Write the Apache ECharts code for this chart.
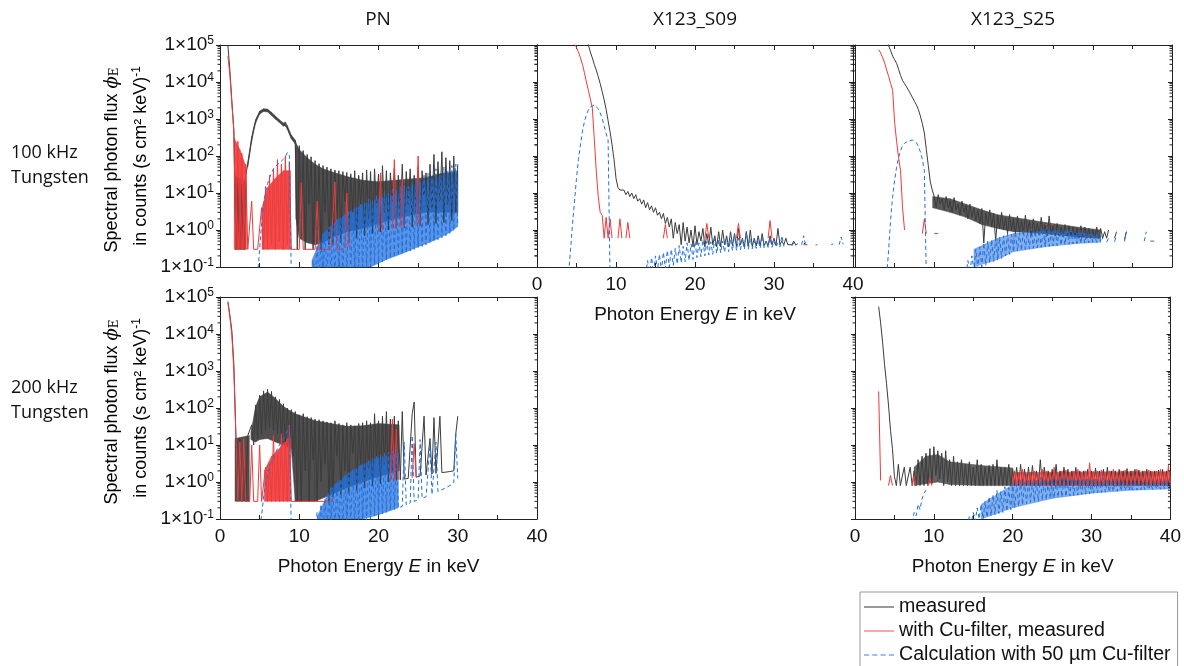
<!DOCTYPE html>
<html>
<head>
<meta charset="utf-8">
<script src="https://cdn.jsdelivr.net/npm/echarts@6/dist/echarts.min.js"></script>
<style>
  html, body { margin: 0; padding: 0; background: #fff; }
  #main { width: 1184px; height: 666px; }
</style>
</head>
<body>
<div id="main"></div>
<script>
// energy grid: every array below is sampled every 0.25 keV, from its own start energy
var STEP = 0.25;

// ---- PN, 100 kHz (start 1.0 keV) ----
var pnTopMeas = [
  95000, 20000, 3000, 500,      // 1
  0.3, 25, 0.3, 18,             // 2
  0.3, 30, 60, 130,             // 3
  300, 550, 900, 1200,          // 4
  1500, 1650, 1750, 1780,       // 5
  1700, 1550, 1400, 1250,       // 6
  1100, 980, 880, 800,          // 7
  700, 760, 600, 420,           // 8
  330, 280, 240, 0.3,           // 9
  190, 2, 140, 0.3,             // 10
  110, 5, 95, 0.3,              // 11
  75, 1, 62, 0.3,               // 12
  55, 3, 50, 0.4,               // 13
  45, 0.4, 42, 2,               // 14
  40, 0.45, 38, 6,              // 15
  36, 0.5, 33, 3,               // 16
  40, 0.6, 30, 5,               // 17
  35, 0.7, 42, 2,               // 18
  38, 0.8, 45, 4,               // 19
  32, 0.9, 55, 3,               // 20
  40, 1.0, 35, 6,               // 21
  48, 1.1, 30, 2,               // 22
  60, 1.15, 38, 5,              // 23
  45, 1.2, 30, 3,               // 24
  50, 1.3, 40, 8,               // 25
  35, 1.4, 60, 4,               // 26
  110, 1.5, 70, 6,              // 27
  130, 1.6, 90, 5,              // 28
  75, 1.8, 100, 3,              // 29
  60                            // 30
];
var pnTopFilt = [
  50000, 15000, 2500, 450,      // 1
  0.3, 250, 0.3, 120,           // 2
  0.3, 60, 0.3, 0.3,            // 3
  6, 0.3, 0.3, 0.3,             // 4
  0.3, 4, 0.3, 15,              // 5
  0.3, 30, 0.4, 45,             // 6
  0.3, 80, 0.5, 60,             // 7
  0.3, 100, 0.4, 70,            // 8
  0.3, 0.3, 0.3, 0.3,           // 9
  0.3, 19, 0.3, 0.3,            // 10
  0.3, 0.3, 0.3, 0.3,           // 11
  0.3, 6, 0.3, 0.3,             // 12
  0.3, 0.3, 0.3, 0.3,           // 13
  0.3, 0.3, 20, 0.3,            // 14
  0.3, 0.3, 0.32, 0.34,         // 15
  10, 0.36, 0.4, null,          // 16
  null, null, null, null,       // 17
  null, null, null, null,       // 18
  null, null, null, null,       // 19
  0.9, 35, 0.95, null,          // 20
  null, null, null, 1.05,       // 21
  80, 1.1, null, 1.15,          // 22
  26, 1.2, null, null,          // 23
  null, null, null, 1.3,        // 24
  100, 1.35, null, null         // 25
];
var pnTopCalc = [
  null, null, null, null,       // 1
  null, null, null, null,       // 2
  null, null, null, null,       // 3
  null, null, null, 0.06,       // 4
  0.3, 1.5, 5, 11,              // 5
  18, 26, 35, 45,               // 6
  52, 58, 65, 72,               // 7
  82, 95, 125, 105,             // 8
  0.05, null, null, null,       // 9
  null, null, null, null,       // 10
  null, null, 0.05, 0.15,       // 11
  0.05, 0.4, 0.05, 0.5,         // 12
  0.05, 0.8, 0.05, 1.2,         // 13
  0.05, 1.5, 0.05, 1.9,         // 14
  0.05, 2.2, 0.06, 2.8,         // 15
  0.06, 3.5, 0.07, 3,           // 16
  0.07, 4.5, 0.08, 5,           // 17
  0.08, 6, 0.09, 7,             // 18
  0.1, 6.5, 0.12, 9,            // 19
  0.13, 8, 0.14, 12,            // 20
  0.15, 10, 0.17, 14,           // 21
  0.18, 12, 0.2, 16,            // 22
  0.22, 22, 0.24, 15,           // 23
  0.27, 18, 0.3, 25,            // 24
  0.33, 20, 0.36, 30,           // 25
  0.4, 35, 0.44, 25,            // 26
  0.5, 45, 0.55, 30,            // 27
  0.62, 50, 0.7, 40,            // 28
  0.8, 55, 0.95, 60,            // 29
  1.25                          // 30
];

// ---- PN, 200 kHz (start 1.0 keV) ----
var pnBotMeas = [
  75000, 32000, 12000, 1500,    // 1
  19, 0.3, 15, 0.3,             // 2
  12, 0.3, 18, 20,              // 3
  35, 10, 120, 15,              // 4
  220, 20, 290, 25,             // 5
  320, 30, 280, 25,             // 6
  200, 20, 170, 15,             // 7
  130, 12, 100, 10,             // 8
  90, 5, 80, 0.3,               // 9
  65, 0.3, 70, 2,               // 10
  58, 0.3, 55, 4,               // 11
  50, 0.3, 48, 1,               // 12
  45, 3, 42, 0.3,               // 13
  40, 0.4, 45, 5,               // 14
  38, 0.45, 35, 2,              // 15
  40, 0.5, 35, 6,               // 16
  33, 0.6, 38, 3,               // 17
  40, 0.7, 45, 2,               // 18
  40, 0.8, 70, 4,               // 19
  45, 0.9, 60, 3,               // 20
  80, 1.0, 50, 2,               // 21
  60, 1.1, 45, 1.15,            // 22
  80, 1.2, 1.22, 1.25,          // 23
  1.28, 70, 145, 1.35,          // 24
  1.4, 1.45, 1.5, 60,           // 25
  1.55, 1.6, 15, 1.65,          // 26
  55, 1.7, 1.72, 60,            // 27
  1.8, 1.82, 1.85, 1.9,         // 28
  1.92, 1.95, 2.0, 20,          // 29
  60                            // 30
];
var pnBotFilt = [
  70000, 28000, 9000, 1000,     // 1
  20, 0.3, 12, 0.3,             // 2
  15, 0.3, 0.3, 0.3,            // 3
  10, 0.3, 0.3, 0.3,            // 4
  10, 0.3, 0.3, 2.5,            // 5
  0.3, 3, 0.3, 18,              // 6
  0.3, 6, 0.3, 20,              // 7
  0.3, 12, 0.3, 35,             // 8
  0.3, 0.3, 0.3, 0.3,           // 9
  0.3, 0.3, 0.3, 0.3,           // 10
  0.3, 0.3, 0.3, 0.3,           // 11
  0.3, 0.3, 0.3, 0.3,           // 12
  0.3, 0.3, 0.3, 0.3,           // 13
  0.3, 0.35, 0.4, null,         // 14
  null, null, null, null,       // 15
  null, null, null, null,       // 16
  null, null, null, null,       // 17
  null, null, null, null,       // 18
  null, null, null, null,       // 19
  null, null, null, null,       // 20
  null, null, 1.05, 50,         // 21
  1.1, 27, 1.15, null,          // 22
  null, null, null, null,       // 23
  null, 1.3, 11, 1.35           // 24
];
var pnBotCalc = [
  null, null, null, null,       // 1
  null, null, null, null,       // 2
  null, null, null, null,       // 3
  null, null, null, null,       // 4
  0.06, 0.12, 0.4, 0.9,         // 5
  1.5, 2.5, 3.5, 4.5,           // 6
  6, 8, 10, 12,                 // 7
  15, 18, 25, 30,               // 8
  0.05, null, null, null,       // 9
  null, null, null, null,       // 10
  null, null, null, null,       // 11
  0.05, 0.15, 0.05, 0.25,       // 12
  0.05, 0.35, 0.05, 0.5,        // 13
  0.05, 0.7, 0.05, 0.9,         // 14
  0.05, 1.2, 0.06, 1.5,         // 15
  0.06, 1.8, 0.07, 2.2,         // 16
  0.07, 2.5, 0.08, 2.9,         // 17
  0.08, 3.5, 0.09, 4,           // 18
  0.1, 4.5, 0.12, 5,            // 19
  0.13, 5.5, 0.14, 6,           // 20
  0.15, 6.5, 0.17, 7,           // 21
  0.18, 8, 0.2, 0.22,           // 22
  0.22, 12, 0.24, 0.26,         // 23
  0.27, 18, 0.3, 0.32,          // 24
  0.33, 14, 0.36, 0.38,         // 25
  0.4, 0.42, 10, 0.46,          // 26
  0.5, 12, 0.55, 0.6,           // 27
  0.62, 0.66, 0.7, 0.75,        // 28
  0.8, 0.85, 0.95, 20,          // 29
  1.25                          // 30
];

// ---- X123_S09, 100 kHz ----
var s09MeasStart = 6.0;
var s09Meas = [
  250000, 170000, 100000, 65000, // 6
  45000, 30000, 21000, 14000,   // 7
  9000, 5500, 3300, 1800,       // 8
  900, 450, 200, 80,            // 9
  25, 14, 12, 11,               // 10
  12, 9, 11, 8,                 // 11
  10, 7, 9, 6,                  // 12
  7, 5, 6.5, 4,                 // 13
  5.5, 3.5, 4.5, 3,             // 14
  4, 2.5, 3, 2,                 // 15
  2.8, 1.5, 2.2, 1.2,           // 16
  2, 0.6, 1.6, 0.8,             // 17
  1.4, 0.4, 1.6, 0.5,           // 18
  1.2, 0.45, 1.0, 0.35,         // 19
  1.3, 0.4, 0.9, 0.5,           // 20
  1.1, 0.35, 0.8, 0.4,          // 21
  1.2, 0.4, 0.7, 0.35,          // 22
  0.9, 0.35, 1.0, 0.4,          // 23
  0.7, 0.35, 0.9, 0.38,         // 24
  0.8, 0.36, 1.1, 0.4,          // 25
  0.6, 0.35, 0.9, 0.36,         // 26
  1.0, 0.36, 0.6, 0.37,         // 27
  0.7, 0.37, 0.8, 0.38,         // 28
  0.5, 0.38, 0.7, 0.4,          // 29
  0.6, 0.38, 1.1, 0.4,          // 30
  0.5, 0.4, 0.6, 0.4,           // 31
  0.45, 0.4, 0.5, 0.4,          // 32
  0.42, null, null, 0.42,       // 33
  0.45                          // 34
];
var s09FiltStart = 4.5;
var s09Filt = [
  200000, 110000,               // 4.5
  85000, 65000, 45000, 30000,   // 5
  18000, 10000, 6000, 3500,     // 6
  2000, 300, 40, 8,             // 7
  3, 2.5, 0.6, 2.2,             // 8
  0.6, 2, 0.6, null,            // 9
  null, 0.6, 2, 0.6,            // 10
  null, 0.6, 1.6, 0.6,          // 11
  null, null, null, null,       // 12
  null, null, null, null,       // 13
  null, null, null, null,       // 14
  null, null, null, null,       // 15
  0.6, 1.4, 0.6, null,          // 16
  null, null, null, null,       // 17
  null, null, null, null,       // 18
  null, null, null, null,       // 19
  null, null, null, null,       // 20
  null, 0.6, 1.5, 0.6,          // 21
  null, null, null, null,       // 22
  null, null, null, null,       // 23
  null, null, null, null,       // 24
  null, 0.6, 1.5, 0.6,          // 25
  null, null, null, null,       // 26
  null, null, null, null,       // 27
  null, null, null, null,       // 28
  null, 0.6, 1.8, 0.6,          // 29
  null, null, null, null,       // 30
  null, null, null, null,       // 31
  null, null, null, null,       // 32
  null, null, null, 0.4,        // 33
  0.4, 0.4                      // 34
];
var s09CalcStart = 4.0;
var s09Calc = [
  0.07, 0.3, 1.5, 6,            // 4
  25, 80, 200, 450,             // 5
  850, 1300, 1750, 2100,        // 6
  2350, 2400, 2250, 1900,       // 7
  1450, 1050, 650, 400,         // 8
  270, 0.05, null, null,        // 9
  null, null, null, null,       // 10
  null, null, null, null,       // 11
  null, null, null, null,       // 12
  null, null, null, 0.06,       // 13
  0.15, 0.06, 0.18, 0.07,       // 14
  0.2, 0.08, 0.22, 0.08,        // 15
  0.25, 0.09, 0.28, 0.1,        // 16
  0.3, 0.11, 0.32, 0.12,        // 17
  0.38, 0.13, 0.36, 0.14,       // 18
  0.45, 0.15, 0.42, 0.16,       // 19
  0.5, 0.18, 0.45, 0.19,        // 20
  0.55, 0.2, 0.5, 0.21,         // 21
  0.48, 0.22, 0.6, 0.23,        // 22
  0.55, 0.24, 0.5, 0.25,        // 23
  0.65, 0.26, 0.55, 0.27,       // 24
  0.8, 0.28, 0.6, 0.29,         // 25
  0.55, 0.3, 0.9, 0.3,          // 26
  0.6, 0.31, 0.5, 0.32,         // 27
  0.55, 0.32, 0.7, 0.33,        // 28
  0.5, 0.34, 0.6, 0.34,         // 29
  0.5, 0.35, 0.45, 0.35,        // 30
  0.7, 0.36, null, null,        // 31
  null, 0.37, 0.45, 0.37,       // 32
  null, null, 0.4, 0.7,         // 33
  0.38, null, null, null,       // 34
  null, 0.39, 0.4, null,        // 35
  null, null, null, null,       // 36
  null, 0.4, 0.42, null,        // 37
  null, 0.4, 0.65, 0.41         // 38
];

// ---- X123_S25, 100 kHz ----
var s25TopMeasStart = 4.0;
var s25TopMeas = [
  150000, 95000, 70000, 50000,  // 4
  40000, 32000, 22000, 15000,   // 5
  11000, 9000, 7400, 6000,      // 6
  4800, 3800, 3000, 2400,       // 7
  1800, 1200, 750, 420,         // 8
  150, 55, 20, 12,              // 9
  8, 4, 9, 5,                   // 10
  7, 3.5, 8, 4,                 // 11
  6, 3, 7.5, 3.5,               // 12
  5, 2.5, 6, 3,                 // 13
  4.5, 2, 5, 2.2,               // 14
  4, 1.8, 3.5, 1.5,             // 15
  3.8, 0.45, 3, 1.4,            // 16
  3.5, 1.2, 2.8, 0.5,           // 17
  2.5, 1.1, 3, 1,               // 18
  2.2, 0.8, 2.6, 1,             // 19
  2, 0.8, 2.4, 0.9,             // 20
  1.8, 0.8, 2.5, 0.9,           // 21
  1.7, 0.7, 2, 0.8,             // 22
  1.5, 0.75, 2.2, 0.8,          // 23
  1.4, 0.7, 2.4, 0.75,          // 24
  1.3, 0.7, 1.5, 0.7,           // 25
  1.2, 0.65, 1.4, 0.7,          // 26
  1.3, 0.7, 1.2, 0.65,          // 27
  1.1, 0.6, 1.3, 0.65,          // 28
  1.2, 0.6, 1.1, 0.6,           // 29
  1.0, 0.6, 1.2, 0.6,           // 30
  1.1, 0.6, 0.9, 0.6,           // 31
  1.0, null, null, 0.6,         // 32
  0.9, null, null, null,        // 33
  0.55, 0.9                     // 34
];
var s25TopFiltStart = 3.0;
var s25TopFilt = [
  75000, 60000, 45000, 32000,   // 3
  21000, 14000, 9000, 6000,     // 4
  800, 250, 90, 40,             // 5
  4, 1, null, null,             // 6
  null, null, null, null,       // 7
  null, null, 0.8, 2,           // 8
  0.8, null, null, null,        // 9
  0.8, 0.8, 0.8, null,          // 10
  null, null, null, null,       // 11
  null, null, null, null,       // 12
  null, null, null, null,       // 13
  null, null, null, null,       // 14
  null, null, null, null,       // 15
  null, null, null, null,       // 16
  null, null, null, null,       // 17
  null, null, null, null,       // 18
  null, null, null, null,       // 19
  null, null, null, null,       // 20
  null, null, null, null,       // 21
  null, null, null, null,       // 22
  null, null, null, null,       // 23
  1.4, 1.4, null, 1.4,          // 24
  1.4                           // 25
];
var s25TopCalcStart = 4.0;
var s25TopCalc = [
  0.06, 0.3, 2, 8,              // 4
  22, 50, 90, 140,              // 5
  190, 220, 245, 260,           // 6
  270, 268, 255, 230,           // 7
  180, 130, 80, 40,             // 8
  0.05, null, null, null,       // 9
  null, null, null, null,       // 10
  null, null, null, null,       // 11
  null, null, null, null,       // 12
  null, null, null, null,       // 13
  0.06, 0.15, 0.07, 0.2,        // 14
  0.08, 0.3, 0.09, 0.35,        // 15
  0.1, 0.45, 0.11, 0.5,         // 16
  0.13, 0.55, 0.14, 0.6,        // 17
  0.15, 0.65, 0.17, 0.7,        // 18
  0.2, 0.8, 0.22, 0.75,         // 19
  0.25, 0.9, 0.27, 0.85,        // 20
  0.28, 1.0, 0.3, 0.9,          // 21
  0.31, 1.1, 0.32, 0.95,        // 22
  0.33, 1.0, 0.34, 1.1,         // 23
  0.35, 1.2, 0.36, 0.9,         // 24
  0.37, 1.1, 0.38, 1.0,         // 25
  0.39, 0.9, 0.4, 1.1,          // 26
  0.41, 1.0, 0.42, 0.8,         // 27
  0.43, 0.9, 0.43, 1.0,         // 28
  0.44, 0.8, 0.45, 0.9,         // 29
  0.46, 0.7, 0.46, 0.9,         // 30
  0.47, 0.6, null, 0.47,        // 31
  0.6, null, null, 0.48,        // 32
  0.7, null, null, null,        // 33
  0.49, 0.9, null, null,        // 34
  0.5, null, 0.6, null,         // 35
  null, null, 0.5, 0.9,         // 36
  null, 0.5, 0.5, 0.5           // 37
];

// ---- X123_S25, 200 kHz ----
var s25BotMeasStart = 3.0;
var s25BotMeas = [
  55000, 20000, 6000, 1500,     // 3
  450, 120, 25, 8,              // 4
  1.4, 0.8, 3, 0.8,             // 5
  0.8, 2.5, 0.8, 0.8,           // 6
  2.5, 0.8, 2, 0.8,             // 7
  4, 0.8, 5, 0.8,               // 8
  6, 0.8, 8, 0.9,               // 9
  9, 1.5, 7, 1.2,               // 10
  6, 0.8, 7, 1.0,               // 11
  4, 0.8, 5, 0.8,               // 12
  3.5, 0.8, 4, 0.8,             // 13
  3, 0.8, 3.5, 0.8,             // 14
  2.5, 0.8, 4, 0.8,             // 15
  3, 0.8, 2.5, 0.8,             // 16
  2.8, 0.8, 3, 0.8,             // 17
  4, 0.8, 2.5, 0.8,             // 18
  2.5, 0.8, 3, 0.8,             // 19
  2.2, 0.8, 2.5, 0.8,           // 20
  3, 0.8, 2.2, 0.8,             // 21
  2.5, 0.8, 2.8, 0.8,           // 22
  2, 0.8, 4, 0.8,               // 23
  2.5, 0.8, 2, 0.8,             // 24
  2.2, 0.8, 3, 0.8,             // 25
  2, 0.8, 2.5, 0.8,             // 26
  2.2, 0.8, 2, 0.8,             // 27
  2.5, 0.8, 2, 0.8,             // 28
  2, 0.8, 2.2, 0.8,             // 29
  2, 0.8, 2.4, 0.8,             // 30
  2, 0.8, 2.2, 0.8,             // 31
  2.5, 0.8, 2, 0.8,             // 32
  2, 0.8, 2.2, 0.8,             // 33
  2, 0.8, 2.3, 0.8,             // 34
  2, 0.8, 2.2, 0.8,             // 35
  2.1, 0.8, 2, 0.8,             // 36
  2.2, 0.8, 2, 0.8,             // 37
  2, 0.8, 2.1, 0.8,             // 38
  2.2, 0.8, 2, 0.8,             // 39
  2                             // 40
];
var s25BotFiltStart = 3.0;
var s25BotFilt = [
  280, 1.1, null, null,         // 3
  null, 0.8, 1.5, 0.8,          // 4
  null, null, null, null,       // 5
  null, null, null, null,       // 6
  null, 0.8, 1.5, 0.8,          // 7
  null, null, null, null,       // 8
  null, 0.8, 1.3, 0.8,          // 9
  null, null, null, null,       // 10
  null, null, null, null,       // 11
  null, null, null, null,       // 12
  null, null, null, null,       // 13
  null, null, null, null,       // 14
  null, null, null, null,       // 15
  null, null, null, null,       // 16
  null, null, null, null,       // 17
  null, null, null, null,       // 18
  null, null, null, null,       // 19
  0.8, 2, 0.8, 1.8,             // 20
  0.8, 2.2, 0.8, 1.6,           // 21
  0.8, 1.8, 0.8, 2,             // 22
  0.8, 1.6, 0.8, 2.2,           // 23
  0.8, 2, 0.8, 1.8,             // 24
  0.8, 2.5, 0.8, 1.7,           // 25
  0.8, 2, 0.8, 2.1,             // 26
  0.8, 1.8, 0.8, 2,             // 27
  0.8, 2.2, 0.8, 1.8,           // 28
  0.8, 2, 0.8, 3.3,             // 29
  0.8, 1.9, 0.8, 2,             // 30
  0.8, 2.1, 0.8, 1.8,           // 31
  0.8, 2, 0.8, 2.2,             // 32
  0.8, 1.8, 0.8, 2,             // 33
  0.8, 2.1, 0.8, 1.9,           // 34
  0.8, 2, 0.8, 2.2,             // 35
  0.8, 1.8, 0.8, 2,             // 36
  0.8, 2.1, 0.8, 1.9,           // 37
  0.8, 2, 0.8, 2.2,             // 38
  0.8, 1.9, 0.8, 2.8,           // 39
  0.8                           // 40
];
var s25BotCalcStart = 7.0;
var s25BotCalc = [
  null, 0.08, 0.15, 0.12,       // 7
  0.25, 0.18, 0.35, 0.5,        // 8
  0.6, null, null, null,        // 9
  null, null, null, null,       // 10
  null, null, null, null,       // 11
  null, null, null, null,       // 12
  null, null, null, null,       // 13
  null, 0.06, 0.12, 0.08,       // 14
  0.15, 0.09, 0.2, 0.1,         // 15
  0.25, 0.1, 0.3, 0.11,         // 16
  0.4, 0.12, 0.45, 0.13,        // 17
  0.6, 0.14, 0.55, 0.15,        // 18
  0.75, 0.16, 0.7, 0.18,        // 19
  1.0, 0.2, 0.9, 0.22,          // 20
  1.1, 0.24, 1.0, 0.26,         // 21
  1.2, 0.28, 1.0, 0.29,         // 22
  1.1, 0.3, 1.3, 0.32,          // 23
  1.2, 0.33, 1.0, 0.35,         // 24
  1.3, 0.36, 1.1, 0.38,         // 25
  1.2, 0.39, 1.4, 0.4,          // 26
  1.1, 0.42, 1.3, 0.43,         // 27
  1.2, 0.44, 1.1, 0.46,         // 28
  1.3, 0.47, 1.2, 0.48,         // 29
  1.1, 0.5, 1.2, 0.51,          // 30
  1.0, 0.52, 1.3, 0.53,         // 31
  1.1, 0.54, 1.0, 0.55,         // 32
  1.2, 0.56, 1.0, 0.57,         // 33
  1.1, 0.58, 0.9, 0.59,         // 34
  1.0, 0.6, 1.1, 0.6,           // 35
  0.9, 0.61, 1.0, 0.62,         // 36
  1.0, 0.62, 0.9, 0.63,         // 37
  1.0, 0.64, 0.9, 0.64,         // 38
  1.0, 0.65, 1.1, 0.65,         // 39
  0.9                           // 40
];

// dense noise bands: [energy keV, lower edge, upper edge]; null row = gap
var pnTopMeasBand = [[1.9, 0.3, 28], [2.6, 0.3, 25], [3.3, 0.3, 20], [3.3, null, null],
  [3.5, 50, 68], [4, 250, 330], [4.5, 780, 960], [5, 1350, 1650], [5.5, 1600, 1900], [6, 1550, 1850],
  [6.5, 1250, 1520], [7, 980, 1200], [7.5, 800, 960], [8, 640, 780], [8.25, 680, 830], [8.5, 520, 660],
  [9, 290, 370], [9.5, 210, 270], [9.6, 2, 220], [10, 0.6, 150], [11, 0.45, 90], [12, 0.4, 60],
  [13, 0.45, 45], [14, 0.6, 38], [16, 0.9, 28], [18, 1.1, 22], [20, 1.5, 20], [22, 2, 22],
  [24, 2.5, 24], [26, 3, 26], [28, 3, 34], [30, 3, 36]];
var pnTopFiltBand = [[1.8, 0.3, 300], [2.5, 0.3, 150], [3.3, 0.3, 50], [3.3, null, null],
  [5.3, 0.3, 4], [6, 0.3, 14], [7, 0.3, 25], [8, 0.3, 40], [8.9, 0.3, 40]];
var pnTopCalcBand = [[11.6, 0.1, 0.15], [13, 0.1, 0.8], [15, 0.1, 2], [17, 0.1, 3.8], [19, 0.1, 6],
  [21, 0.16, 8], [23, 0.23, 12], [25, 0.35, 18], [27, 0.52, 25], [29, 0.85, 35], [30, 1.25, 40]];
var pnBotMeasBand = [[1.9, 0.3, 15], [3.7, 0.3, 18], [3.7, null, null],
  [3.9, 14, 22], [4.5, 12, 110], [5, 14, 200], [6, 15, 270], [7, 12, 180], [8, 10, 110], [9, 8, 80],
  [9.5, 0.3, 70], [12, 0.3, 45], [14, 0.45, 38], [16, 0.7, 32], [18, 1.0, 33], [20, 1.4, 38], [22.6, 2, 35]];
var pnBotFiltBand = [[5.6, 0.3, 2], [6.5, 0.3, 5], [7.5, 0.3, 8], [8.5, 0.3, 15], [8.9, 0.3, 15]];
var pnBotCalcBand = [[12.3, 0.1, 0.12], [14, 0.1, 0.7], [16, 0.1, 1.6], [18, 0.1, 3], [20, 0.13, 4.5], [22.5, 0.2, 6]];
var s25TopMeasBand = [[9.8, 4, 8], [12, 3, 7], [14, 2.2, 5], [16, 1.4, 3.5], [18, 1.1, 2.6], [20, 0.9, 2.2],
  [24, 0.8, 1.6], [28, 0.65, 1.2], [31, 0.6, 1.0]];
var s25TopCalcBand = [[15, 0.1, 0.3], [18, 0.16, 0.6], [20, 0.26, 0.8], [24, 0.35, 0.95], [28, 0.43, 0.9], [31, 0.47, 0.7]];
var s25BotMeasBand = [[7.5, 0.8, 2.5], [9, 0.9, 5], [10.5, 1.0, 5.5], [12, 0.85, 3.5], [16, 0.8, 2.8], [20, 0.8, 2.4]];
var s25BotFiltBand = [[20, 0.8, 1.8], [30, 0.8, 1.9], [40, 0.8, 1.9]];
var s25BotCalcBand = [[16, 0.1, 0.25], [20, 0.2, 0.85], [25, 0.36, 1.05], [30, 0.5, 1.05], [35, 0.6, 1.0], [40, 0.65, 0.95]];

var colTitles = ['PN', 'X123_S09', 'X123_S25'];
var rowTitles = ['100 kHz\nTungsten', '200 kHz\nTungsten'];
var seriesNames = ['measured', 'with Cu-filter, measured', 'Calculation with 50 µm Cu-filter'];

// log minor tick marks 2..9 in every decade of the flux axis
var minorTickValues = [];
[0.1, 1, 10, 100, 1000, 10000].forEach(function (d) {
    for (var m = 2; m <= 9; m++) minorTickValues.push(+(d * m).toPrecision(3));
});

var C_MEAS = '#3c3c3c', C_FILT = '#f03a3a', C_CALC = '#2170dd';
var COLORS = [C_MEAS, C_FILT, C_CALC];
var FONT = '"Liberation Sans", Arial, sans-serif';

// legend samples: a thin bar for solid lines, short bars for the dashed one
var ICON_SOLID = 'path://M0,0h30v1.2h-30z';
var ICON_DASH = 'path://M0,0h5v1.2h-5z M8,0h5v1.2h-5z M16,0h5v1.2h-5z M24,0h5v1.2h-5z';

// turn a sampled array into [energy, flux] points
function toPoints(start, vals) {
    return vals.map(function (v, i) { return [start + i * STEP, v]; });
}

// grid layout: 0 PN top, 1 S09 top, 2 S25 top, 3 PN bottom, 4 S25 bottom
var gridBoxes = [
    {left: 220, top: 45, width: 317, height: 222},
    {left: 537, top: 45, width: 316, height: 222},
    {left: 855, top: 45, width: 317, height: 222},
    {left: 220, top: 297, width: 317, height: 222},
    {left: 855, top: 297, width: 317, height: 222}
];
var showX = [false, true, false, true, true];
var showY = [true, false, false, true, false];

var grids = [], xAxes = [], yAxes = [];
var axisLineStyle = {color: '#222', width: 1};
gridBoxes.forEach(function (b, g) {
    grids.push({left: b.left, top: b.top, width: b.width, height: b.height, containLabel: false});
    xAxes.push({
        type: 'value', gridIndex: g, min: 0, max: 40, interval: 10, position: 'bottom',
        axisLine: {show: true, onZero: false, lineStyle: axisLineStyle},
        axisTick: {show: true, inside: true, length: 5, lineStyle: axisLineStyle},
        minorTick: {show: true, splitNumber: 2, length: 4, lineStyle: axisLineStyle},
        splitLine: {show: false},
        axisLabel: {show: showX[g], fontSize: 19, fontFamily: FONT, color: '#111', margin: 8},
        name: showX[g] ? 'Photon Energy {i|E} in keV' : '',
        nameLocation: 'middle', nameGap: 38,
        nameTextStyle: {fontSize: 19, fontFamily: FONT, color: '#111',
            rich: {i: {fontSize: 19, fontFamily: FONT, fontStyle: 'italic', color: '#111'}}}
    });
    xAxes.push({
        type: 'value', gridIndex: g, min: 0, max: 40, interval: 10, position: 'top',
        axisLine: {show: true, onZero: false, lineStyle: axisLineStyle},
        axisTick: {show: true, inside: true, length: 5, lineStyle: axisLineStyle},
        minorTick: {show: true, splitNumber: 2, length: 4, lineStyle: axisLineStyle},
        splitLine: {show: false}, axisLabel: {show: false}
    });
    yAxes.push({
        type: 'log', logBase: 10, gridIndex: g, min: 0.1, max: 100000, splitNumber: 6, position: 'left',
        axisLine: {show: true, onZero: false, lineStyle: axisLineStyle},
        axisTick: {show: true, inside: false, length: 4, lineStyle: axisLineStyle},
        splitLine: {show: false},
        axisLabel: {
            show: showY[g], margin: 6,
            formatter: function (v) {
                var e = Math.round(Math.log(v) / Math.LN10);
                return '{b|1×10}{s|' + e + '}';
            },
            rich: {
                b: {fontSize: 19, fontFamily: FONT, color: '#111'},
                s: {fontSize: 12, fontFamily: FONT, color: '#111', verticalAlign: 'bottom', padding: [0, 0, 9, 0]}
            }
        }
    });
    yAxes.push({
        type: 'log', logBase: 10, gridIndex: g, min: 0.1, max: 100000, splitNumber: 6, position: 'right',
        axisLine: {show: true, onZero: false, lineStyle: axisLineStyle},
        axisTick: {show: true, inside: true, length: 4, lineStyle: axisLineStyle},
        splitLine: {show: false}, axisLabel: {show: false}
    });
});

function mkLine(kind, g, data) {
    var color = COLORS[kind];
    return {
        type: 'line', name: seriesNames[kind],
        xAxisIndex: g * 2, yAxisIndex: g * 2, z: 3,
        data: data, symbol: 'none', showSymbol: false, connectNulls: false,
        clip: true, silent: true, animation: false,
        lineStyle: {color: color, width: 1, type: kind === 2 ? [4, 3] : 'solid'},
        itemStyle: {color: color}
    };
}

// filled band between the lower and upper edge of a dense noise region
function mkBand(kind, g, rows, opacity) {
    var segs = [];
    for (var i = 0; i < rows.length - 1; i++) {
        var a = rows[i], b = rows[i + 1];
        if (a[1] == null || b[1] == null) continue;
        segs.push([a[0], a[1], a[2], b[0], b[1], b[2]]);
    }
    var color = COLORS[kind];
    return {
        type: 'custom', name: seriesNames[kind],
        xAxisIndex: g * 2, yAxisIndex: g * 2, z: 2 + kind * 0.2,
        data: segs, silent: true, animation: false, clip: true,
        itemStyle: {color: color},
        encode: {x: [0, 3], y: [1, 2, 4, 5]},
        renderItem: function (params, api) {
            var p1 = api.coord([api.value(0), api.value(2)]);
            var p2 = api.coord([api.value(3), api.value(5)]);
            var p3 = api.coord([api.value(3), api.value(4)]);
            var p4 = api.coord([api.value(0), api.value(1)]);
            return {type: 'polygon', shape: {points: [p1, p2, p3, p4]},
                style: {fill: color, opacity: opacity, stroke: color, lineWidth: 0.5}};
        }
    };
}

// minor ticks of the log axes: outside on the left edge, inside on the right edge
function mkMinorTicks(g) {
    return {
        type: 'custom', xAxisIndex: g * 2, yAxisIndex: g * 2, z: 5,
        data: minorTickValues.map(function (v) { return [0, v]; }),
        encode: {x: 0, y: 1}, silent: true, animation: false, clip: false,
        renderItem: function (params, api) {
            var left = api.coord([0, api.value(1)]);
            var right = api.coord([40, api.value(1)]);
            var st = {stroke: '#222', lineWidth: 1};
            return {type: 'group', children: [
                {type: 'line', shape: {x1: left[0] - 2.5, y1: left[1], x2: left[0], y2: left[1]}, style: st},
                {type: 'line', shape: {x1: right[0] - 2.5, y1: right[1], x2: right[0], y2: right[1]}, style: st}
            ]};
        }
    };
}

var series = [
    mkLine(0, 0, toPoints(1.0, pnTopMeas)),
    mkLine(0, 1, toPoints(s09MeasStart, s09Meas)),
    mkLine(0, 2, toPoints(s25TopMeasStart, s25TopMeas)),
    mkLine(0, 3, toPoints(1.0, pnBotMeas)),
    mkLine(0, 4, toPoints(s25BotMeasStart, s25BotMeas)),
    mkBand(0, 0, pnTopMeasBand, 0.9),
    mkBand(0, 3, pnBotMeasBand, 0.9),
    mkBand(0, 2, s25TopMeasBand, 0.85),
    mkBand(0, 4, s25BotMeasBand, 0.8),
    mkLine(1, 0, toPoints(1.0, pnTopFilt)),
    mkLine(1, 1, toPoints(s09FiltStart, s09Filt)),
    mkLine(1, 2, toPoints(s25TopFiltStart, s25TopFilt)),
    mkLine(1, 3, toPoints(1.0, pnBotFilt)),
    mkLine(1, 4, toPoints(s25BotFiltStart, s25BotFilt)),
    mkBand(1, 0, pnTopFiltBand, 0.9),
    mkBand(1, 3, pnBotFiltBand, 0.9),
    mkBand(1, 4, s25BotFiltBand, 0.75),
    mkLine(2, 0, toPoints(1.0, pnTopCalc)),
    mkLine(2, 1, toPoints(s09CalcStart, s09Calc)),
    mkLine(2, 2, toPoints(s25TopCalcStart, s25TopCalc)),
    mkLine(2, 3, toPoints(1.0, pnBotCalc)),
    mkLine(2, 4, toPoints(s25BotCalcStart, s25BotCalc)),
    mkBand(2, 0, pnTopCalcBand, 0.75),
    mkBand(2, 3, pnBotCalcBand, 0.75),
    mkBand(2, 2, s25TopCalcBand, 0.55),
    mkBand(2, 4, s25BotCalcBand, 0.55)
];
for (var gi = 0; gi < gridBoxes.length; gi++) series.push(mkMinorTicks(gi));

// texts around the panels
var graphics = [];
var colX = [378, 695, 1013];
colTitles.forEach(function (t, i) {
    graphics.push({type: 'text', x: colX[i], y: 20,
        style: {text: t, font: '19px "Open Sans", sans-serif', fill: '#111', textAlign: 'center', textVerticalAlign: 'middle'}});
});
var rowY = [165, 400];
rowTitles.forEach(function (t, i) {
    graphics.push({type: 'text', x: 11, y: rowY[i],
        style: {text: t, font: '18px "Open Sans", sans-serif', lineHeight: 25, fill: '#111', textAlign: 'left', textVerticalAlign: 'middle'}});
});
[160, 412].forEach(function (cy) {
    graphics.push({type: 'text', x: 112, y: cy, rotation: Math.PI / 2,
        style: {
            text: '{n|Spectral photon flux }{p|ϕ}{e|E}',
            textAlign: 'center', textVerticalAlign: 'middle',
            rich: {
                n: {fontSize: 18, fontFamily: FONT, color: '#111'},
                p: {fontSize: 18, fontFamily: '"DejaVu Serif", serif', fontStyle: 'italic', color: '#111'},
                e: {fontSize: 12, fontFamily: '"DejaVu Serif", serif', color: '#111', verticalAlign: 'top', padding: [6, 0, 0, 0]}
            }
        }});
    graphics.push({type: 'text', x: 141, y: cy - 4, rotation: Math.PI / 2,
        style: {
            text: '{n|in counts (s cm² keV)}{s|-1}',
            textAlign: 'center', textVerticalAlign: 'middle',
            rich: {
                n: {fontSize: 18, fontFamily: FONT, color: '#111'},
                s: {fontSize: 12, fontFamily: FONT, color: '#111', verticalAlign: 'bottom', padding: [0, 0, 9, 0]}
            }
        }});
});

var myChart = echarts.init(document.getElementById('main'), null, {renderer: 'canvas'});
myChart.setOption({
    backgroundColor: '#fff',
    animation: false,
    grid: grids,
    xAxis: xAxes,
    yAxis: yAxes,
    legend: {
        data: [
            {name: seriesNames[0], icon: ICON_SOLID, itemStyle: {color: '#555'}},
            {name: seriesNames[1], icon: ICON_SOLID, itemStyle: {color: '#f07070'}},
            {name: seriesNames[2], icon: ICON_DASH, itemStyle: {color: '#3a82e6'}}
        ],
        orient: 'vertical', left: 860, top: 592, height: 200,
        itemWidth: 30, itemHeight: 14, itemGap: 4,
        padding: [5, 7, 10, 4],
        borderColor: '#999', borderWidth: 1, backgroundColor: '#fff',
        textStyle: {fontSize: 19.6, fontFamily: FONT, color: '#111', lineHeight: 20}
    },
    graphic: graphics,
    series: series
});
</script>
</body>
</html>
